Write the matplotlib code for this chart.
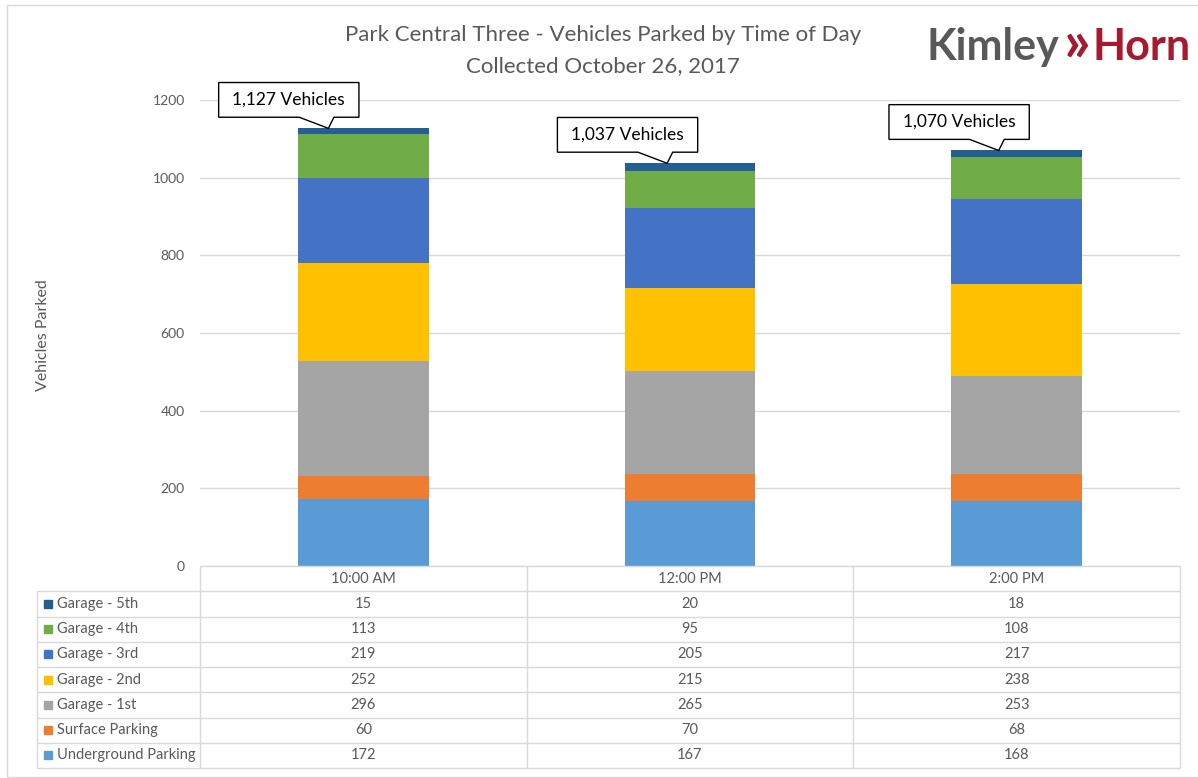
import matplotlib

matplotlib.use("Agg")
import matplotlib.pyplot as plt
import matplotlib.transforms as mtransforms
import numpy as np
from matplotlib.patches import Polygon, Rectangle

# parking counts by level, one value per collection time
times = ["10:00 AM", "12:00 PM", "2:00 PM"]
levels = [
    "Underground Parking",
    "Surface Parking",
    "Garage - 1st",
    "Garage - 2nd",
    "Garage - 3rd",
    "Garage - 4th",
    "Garage - 5th",
]
underground = [172, 167, 168]
surface = [60, 70, 68]
garage_1st = [296, 265, 253]
garage_2nd = [252, 215, 238]
garage_3rd = [219, 205, 217]
garage_4th = [113, 95, 108]
garage_5th = [15, 20, 18]

level_colors = ["#5B9BD5", "#ED7D31", "#A5A5A5", "#FFC000", "#4472C4", "#70AD47", "#255E91"]

W, H = 1198, 778
GRAY = "#595959"
GRID = "#d9d9d9"
RED = "#A6192E"

plt.rcParams["font.family"] = ["Lato", "DejaVu Sans"]


def fx(px):
    return px / W


def fy(py):
    return 1 - py / H


fig = plt.figure(figsize=(W / 100, H / 100), dpi=100)
ax = fig.add_axes([fx(200), fy(566), (1180 - 200) / W, (566 - 100) / H])

x = np.arange(len(times))
series = [underground, surface, garage_1st, garage_2nd, garage_3rd, garage_4th, garage_5th]
bottom = np.zeros(len(times))
for name, vals, color in zip(levels, series, level_colors):
    ax.bar(x, vals, width=0.4, bottom=bottom, color=color, label=name, zorder=2)
    bottom += vals
totals = bottom

# callout bubbles pointing at the top of each stack (shape in points, tip at origin)
label_shift = [-0.107, -0.07, -0.055]
bubble = [(0, 0), (4, 8), (22, 8), (22, 33), (-79, 33), (-79, 8), (-21, 8)]
pt_scale = mtransforms.Affine2D().scale(fig.dpi / 72)
for xi, total, shift in zip(x, totals, label_shift):
    tr = pt_scale + mtransforms.ScaledTranslation(xi + shift, total, ax.transData)
    ax.add_patch(Polygon(bubble, closed=True, fc="white", ec="black", lw=1,
                         transform=tr, clip_on=False, zorder=5))
    ax.text(-28.5, 20.5, f"{int(total):,} Vehicles", transform=tr, ha="center",
            va="center", fontsize=12.5, color="black", zorder=6)

ax.set_xlim(-0.5, 2.5)
ax.set_ylim(0, 1200)
ax.set_yticks(range(0, 1201, 200))
ax.set_xticks([])
ax.tick_params(axis="y", length=0, pad=11, labelsize=10, labelcolor=GRAY)
ax.grid(axis="y", color=GRID, lw=1, zorder=0)
for spine in ax.spines.values():
    spine.set_visible(False)

# data table under the bars, columns lined up with the categories
tab = fig.add_axes([fx(37), fy(768), (1180 - 37) / W, (768 - 566) / H])
left = -0.5 - 3 * (200 - 37) / (1180 - 200)
tab.set_xlim(left, 2.5)
tab.set_ylim(8, 0)
tab.axis("off")
n_rows = len(levels) + 1
tab.hlines(0, -0.5, 2.5, color=GRID, lw=1, clip_on=False)
tab.hlines(np.arange(1, n_rows + 1), left, 2.5, color=GRID, lw=1, clip_on=False)
tab.vlines([-0.5, 0.5, 1.5, 2.5], 0, n_rows, color=GRID, lw=1, clip_on=False)
tab.vlines(left, 1, n_rows, color=GRID, lw=1, clip_on=False)

for xi, t in zip(x, times):
    tab.text(xi, 0.5, t, ha="center", va="center", fontsize=10.5, color=GRAY)

key_tr = mtransforms.blended_transform_factory(tab.transAxes, tab.transData)
table_w = 1180 - 37
rows = list(zip(levels, series, level_colors))[::-1]
for r, (name, vals, color) in enumerate(rows, start=1):
    yc = r + 0.5
    tab.plot([(48 - 37) / table_w], [yc], marker="s", ms=6, color=color,
             transform=key_tr, clip_on=False)
    tab.text((57 - 37) / table_w, yc, name, transform=key_tr, ha="left",
             va="center", fontsize=10.5, color=GRAY)
    for xi, v in zip(x, vals):
        tab.text(xi, yc, str(v), ha="center", va="center", fontsize=10.5, color=GRAY)

# titles and axis label
fig.text(fx(603), fy(35), "Park Central Three - Vehicles Parked by Time of Day",
         ha="center", va="center", fontsize=16, color=GRAY)
fig.text(fx(603), fy(66), "Collected October 26, 2017",
         ha="center", va="center", fontsize=16, color=GRAY)
fig.text(fx(43), fy(335), "Vehicles Parked", rotation=90, ha="center",
         va="center", fontsize=11.5, color=GRAY)

# logo text
renderer = fig.canvas.get_renderer()
logo_y = fy(60)
k = fig.text(fx(927), logo_y, "Kimley", fontsize=31, fontweight="bold",
             color=GRAY, va="baseline", ha="left")
k_end = k.get_window_extent(renderer).x1
arrow = fig.text((k_end + 4) / W, fy(61), "»", fontsize=42, fontweight="bold",
                 color=RED, va="baseline", ha="left")
a_end = arrow.get_window_extent(renderer).x1
fig.text((a_end + 2) / W, logo_y, "Horn", fontsize=31, fontweight="bold",
         color=RED, va="baseline", ha="left")

fig.add_artist(Rectangle((fx(7), fy(777)), 1.0, (777 - 5) / H, transform=fig.transFigure,
                         fill=False, ec=GRID, lw=1))

fig.savefig("out.png", dpi=100)
plt.close(fig)
